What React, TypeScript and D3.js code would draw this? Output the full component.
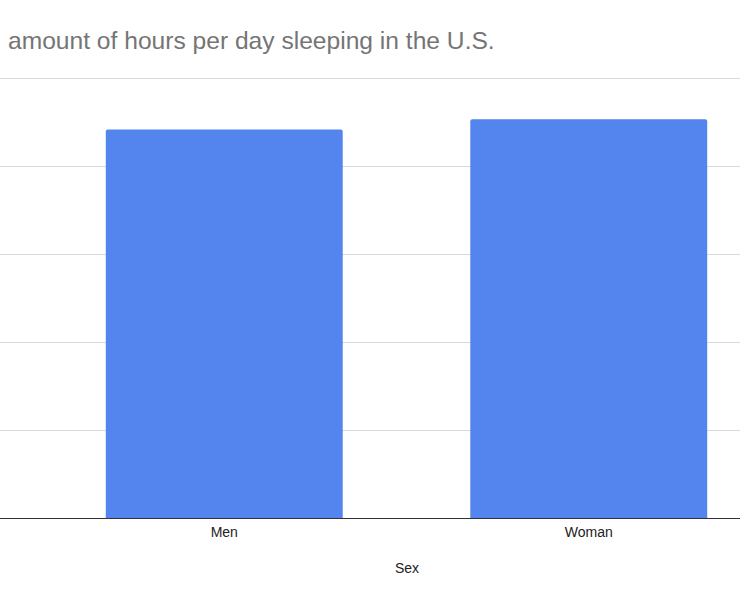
import React from "react";
import * as d3 from "d3";

// Average hours per day spent sleeping, by sex
const categories: string[] = ["Men", "Woman"];
const hours: number[] = [8.83, 9.06];
const yTicks: number[] = [0, 2, 4, 6, 8, 10];

const title = "amount of hours per day sleeping in the U.S.";
const xAxisTitle = "Sex";

const W = 740;
const H = 600;

export default function App() {
  const x = d3
    .scaleBand<string>()
    .domain(categories)
    .range([42, 771])
    .paddingInner(0.35)
    .paddingOuter(0.175);

  const y = d3.scaleLinear().domain([0, 10]).range([518, 78]);

  const font = "Arial, 'Liberation Sans', Helvetica, sans-serif";
  const r = 2;

  const barPath = (x0: number, w: number, top: number, bottom: number) =>
    `M${x0},${bottom}V${top + r}Q${x0},${top} ${x0 + r},${top}H${x0 + w - r}Q${x0 + w},${top} ${x0 + w},${top + r}V${bottom}Z`;

  return (
    <svg
      width={W}
      height={H}
      style={{ position: "absolute", left: 0, top: 0, background: "#fff" }}
      fontFamily={font}
    >
      <text x={8} y={49} fontSize={24.6} fill="#757575">
        {title}
      </text>

      {yTicks.slice(1).map((t) => (
        <line
          key={t}
          x1={0}
          x2={W}
          y1={Math.round(y(t)) + 0.5}
          y2={Math.round(y(t)) + 0.5}
          stroke="#d9d9d9"
          strokeWidth={1}
        />
      ))}

      {categories.map((c, i) => (
        <path
          key={c}
          d={barPath(x(c)!, x.bandwidth(), y(hours[i]), y(0))}
          fill="#5484ED"
        />
      ))}

      <line x1={0} x2={W} y1={518.5} y2={518.5} stroke="#333" strokeWidth={1} />

      {categories.map((c) => (
        <text
          key={c}
          x={x(c)! + x.bandwidth() / 2}
          y={537}
          textAnchor="middle"
          fontSize={14}
          fill="#222"
        >
          {c}
        </text>
      ))}

      <text x={407} y={573} textAnchor="middle" fontSize={14} fill="#222">
        {xAxisTitle}
      </text>
    </svg>
  );
}
